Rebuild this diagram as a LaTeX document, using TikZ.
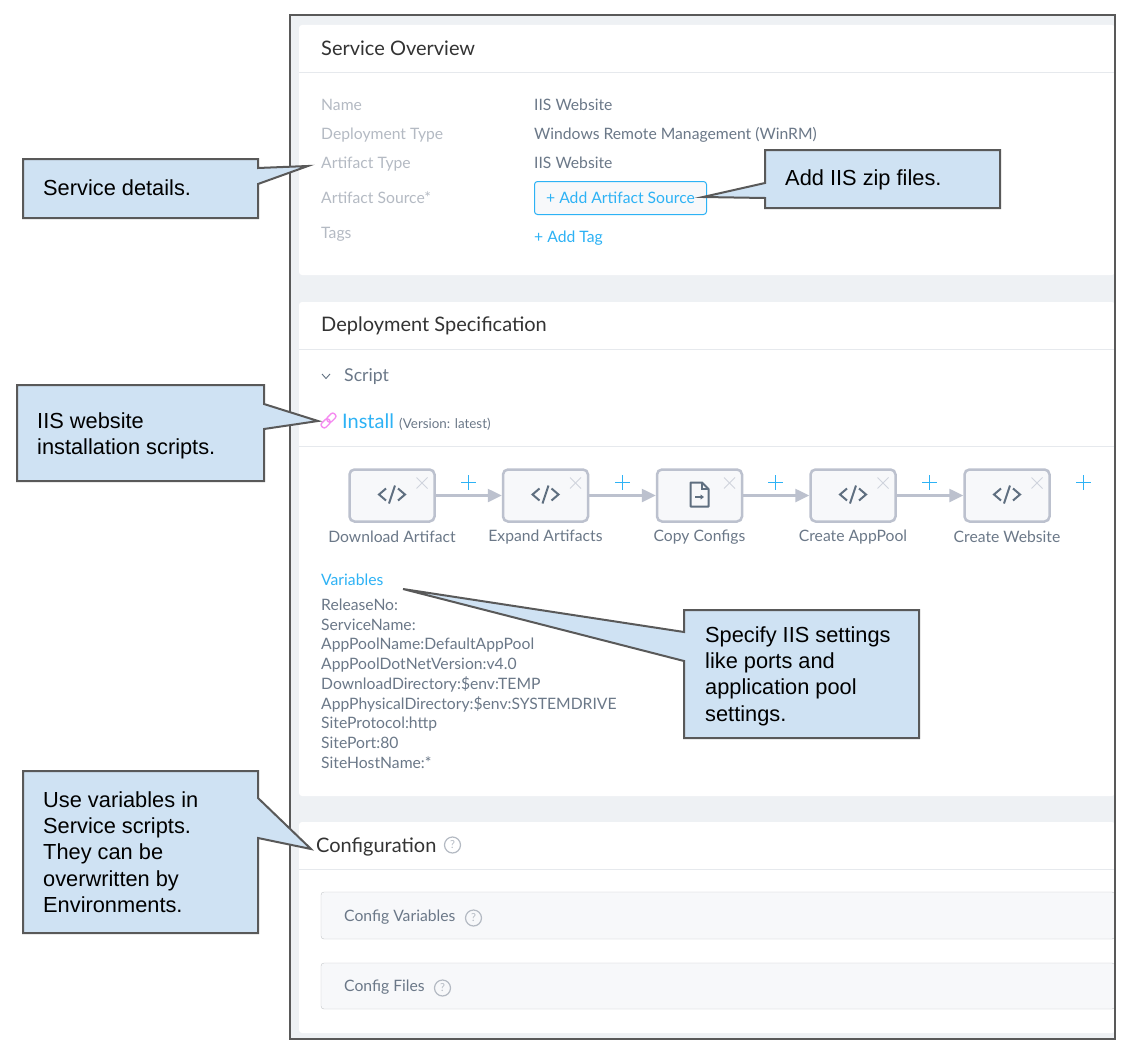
\documentclass[tikz,border=0pt]{standalone}
\usepackage{fontspec}
\setmainfont{Lato}
\newfontfamily\calloutfont{Liberation Sans}
\usetikzlibrary{arrows.meta}
\pgfdeclarelayer{background}
\pgfdeclarelayer{foreground}
\pgfsetlayers{background,main,foreground}
\definecolor{panelbg}{HTML}{EEF1F4}
\definecolor{rulegray}{HTML}{E6E9ED}
\definecolor{textgray}{HTML}{6B7888}
\definecolor{fadegray}{HTML}{B4BAC3}
\definecolor{linkblue}{HTML}{2DB2F5}
\definecolor{stepedge}{HTML}{BCC1CE}
\definecolor{stepfill}{HTML}{F7F8FA}
\definecolor{iconslate}{HTML}{5F6F80}
\definecolor{calloutfill}{HTML}{CFE2F3}
\definecolor{calloutedge}{HTML}{595959}
\definecolor{linkpink}{HTML}{F58CF0}
\tikzset{
  callout/.style={draw=calloutedge,fill=calloutfill,line width=2pt,line join=miter},
  callouttext/.style={font=\calloutfont\fontsize{21.8}{26.4}\selectfont,anchor=north west,align=left,text=black,inner sep=0pt},
  title/.style={font=\fontsize{20}{24}\selectfont,anchor=base west,text=black!80,inner sep=0pt},
  field/.style={font=\fontsize{15.7}{18}\selectfont,anchor=base west,text=fadegray,inner sep=0pt},
  value/.style={font=\fontsize{15.7}{18}\selectfont,anchor=base west,text=textgray,inner sep=0pt},
  stepbox/.style={draw=stepedge,fill=stepfill,line width=2.5pt,rounded corners=5pt,minimum width=85pt,minimum height=52pt,inner sep=0pt},
  steplabel/.style={font=\fontsize{15.7}{18}\selectfont,text=textgray,inner sep=0pt},
  plus/.style={draw=linkblue,line width=1.5pt},
  helpicon/.style={circle,draw=fadegray,line width=1.2pt,minimum size=16pt,inner sep=0pt,text=fadegray,font=\fontsize{11}{11}\selectfont},
  flow/.style={draw=stepedge,line width=2.5pt,-{Triangle[length=14pt,width=13pt]}},
  codeicon/.pic={
    \draw[iconslate,line width=2pt] (-6,-6) -- (-13,0) -- (-6,6);
    \draw[iconslate,line width=2pt] (6,-6) -- (13,0) -- (6,6);
    \draw[iconslate,line width=2pt] (3,-9) -- (-3,9);
  },
  closeicon/.pic={
    \draw[stepedge!70,line width=1pt] (-5.5,-5.5) -- (5.5,5.5);
    \draw[stepedge!70,line width=1pt] (-5.5,5.5) -- (5.5,-5.5);
  }
}
\begin{document}
\begin{tikzpicture}[x=1pt,y=-1pt]
\useasboundingbox (0,0) rectangle (1132,1054);

\begin{pgfonlayer}{background}
\fill[panelbg] (290,15) rectangle (1115,1039);
\fill[white,rounded corners=3pt] (299,25) rectangle (1115,275);
\fill[white,rounded corners=3pt] (299,302) rectangle (1115,796);
\fill[white,rounded corners=3pt] (299,822) rectangle (1115,1033);
\draw[rulegray] (299,72.5) -- (1115,72.5);
\draw[rulegray] (299,349.5) -- (1115,349.5);
\draw[rulegray] (299,446) -- (1115,446);
\draw[rulegray] (299,869.5) -- (1115,869.5);
\draw[draw=rulegray!85!black,fill=stepfill,rounded corners=3pt] (321,892) rectangle (1115,939);
\draw[draw=rulegray!85!black,fill=stepfill,rounded corners=3pt] (321,963) rectangle (1115,1009);
\end{pgfonlayer}

% service overview
\node[title] (overview) at (321,55.5) {Service Overview};
\foreach \y/\name/\txt in {111/name/Name,139.5/type/Deployment Type,168/artifact/Artifact Type,203/source/Artifact Source*,238.5/tags/Tags}
  \node[field] (\name) at (321,\y) {\txt};
\node[value] (namev) at (534,111) {IIS Website};
\node[value] (typev) at (534,139.5) {Windows Remote Management (WinRM)};
\node[value] (artifactv) at (534,168) {IIS Website};
\node[draw=linkblue,fill=stepfill,rounded corners=3pt,line width=1pt,minimum width=172pt,minimum height=33pt,inner sep=0pt,text=linkblue,font=\fontsize{15.7}{18}\selectfont] (addsource) at (620.5,198) {+ Add Artifact Source};
\node[value,text=linkblue] (addtag) at (534,242.5) {+ Add Tag};

% deployment specification
\node[title] (deployment) at (321,331.5) {Deployment Specification};
\draw[iconslate,line width=0.9pt] (322,374) -- (326,378.5) -- (330,374);
\node[value,font=\fontsize{17.7}{20}\selectfont] (script) at (344,381) {Script};
\begin{scope}[shift={(328.5,420.5)},rotate=45]
\draw[linkpink,line width=1.4pt,rounded corners=2.5pt] (-9,-3) rectangle (1,3);
\draw[linkpink,line width=1.4pt,rounded corners=2.5pt] (-1,-3) rectangle (9,3);
\end{scope}
\node[value,text=linkblue,font=\fontsize{20}{24}\selectfont] (install) at (342,428) {Install};
\node[value,font=\fontsize{13.4}{15}\selectfont] (version) at (399,428.5) {(Version: latest)};

\foreach \x/\name/\txt in {392/download/Download Artifact,545.5/expand/Expand Artifacts,699.5/copy/Copy Configs,853/create/Create AppPool,1007/website/Create Website} {
  \node[stepbox] (\name) at (\x,495.5) {};
  \node[steplabel] (\name label) at (\x,537) {\txt};
  \pic at (\x+30,483) {closeicon};
}
\pic at (392,494.5) {codeicon};
\pic at (545.5,494.5) {codeicon};
\pic at (853,494.5) {codeicon};
\pic at (1007,494.5) {codeicon};
% file icon
\draw[iconslate,line width=2pt,line join=round] (690.5,482.5) -- (702,482.5) -- (708.5,489) -- (708.5,506.5) -- (690.5,506.5) -- cycle;
\draw[iconslate,line width=1.2pt] (702,482.5) -- (702,489) -- (708.5,489);
\draw[iconslate,line width=1.3pt,-{Triangle[length=3.5pt,width=5pt]}] (695,497) -- (704,497);

\draw[flow] (download) -- (expand);
\draw[flow] (expand) -- (copy);
\draw[flow] (copy) -- (create);
\draw[flow] (create) -- (website);
\foreach \x in {468.5,622.5,775.5,929.5,1083.5} {
  \draw[plus] (\x-7.5,482.5) -- (\x+7.5,482.5);
  \draw[plus] (\x,475) -- (\x,490);
}

\node[value,text=linkblue] (variables) at (321,585) {Variables};
\foreach \y/\name/\txt in {610/v1/ReleaseNo:,630/v2/ServiceName:,649.5/v3/AppPoolName:DefaultAppPool,669.5/v4/AppPoolDotNetVersion:v4.0,689/v5/DownloadDirectory:\$env:TEMP,709/v6/AppPhysicalDirectory:\$env:SYSTEMDRIVE,728.5/v7/SiteProtocol:http,748.5/v8/SitePort:80,768/v9/SiteHostName:*}
  \node[value] (\name) at (321,\y) {\txt};

% configuration
\node[title] (configuration) at (316,852) {Configuration};
\node[helpicon] (confighelp) at (452.5,845) {?};
\node[value] (configvars) at (344,921) {Config Variables};
\node[helpicon] (varshelp) at (473.5,918) {?};
\node[value] (configfiles) at (344,991) {Config Files};
\node[helpicon] (fileshelp) at (442.5,988) {?};

% frame and callouts on top
\begin{pgfonlayer}{foreground}
\draw[calloutedge,line width=2pt] (290,15) rectangle (1115,1039);
\draw[callout] (23,159) -- (258,159) -- (258,168) -- (308,166) -- (258,184) -- (258,218) -- (23,218) -- cycle;
\node[callouttext] (details) at (43,180) {Service details.};
\draw[callout] (17,385) -- (264,385) -- (264,404) -- (318,421) -- (264,429) -- (264,481) -- (17,481) -- cycle;
\node[callouttext] (scripts) at (37,412) {IIS website\\installation scripts.};
\draw[callout] (765,150) -- (1000,150) -- (1000,208) -- (765,208) -- (765,198) -- (703,197) -- (765,183) -- cycle;
\node[callouttext] (zip) at (785,170) {Add IIS zip files.};
\draw[callout] (684,610) -- (919,610) -- (919,738) -- (684,738) -- (684,661) -- (403,589) -- (684,632) -- cycle;
\node[callouttext] (settings) at (705,626) {Specify IIS settings\\like ports and\\application pool\\settings.};
\draw[callout] (23,771) -- (258,771) -- (258,798) -- (311,849) -- (258,838) -- (258,933) -- (23,933) -- cycle;
\node[callouttext] (usevars) at (43,791) {Use variables in\\Service scripts.\\They can be\\overwritten by\\Environments.};
\end{pgfonlayer}
\end{tikzpicture}
\end{document}
